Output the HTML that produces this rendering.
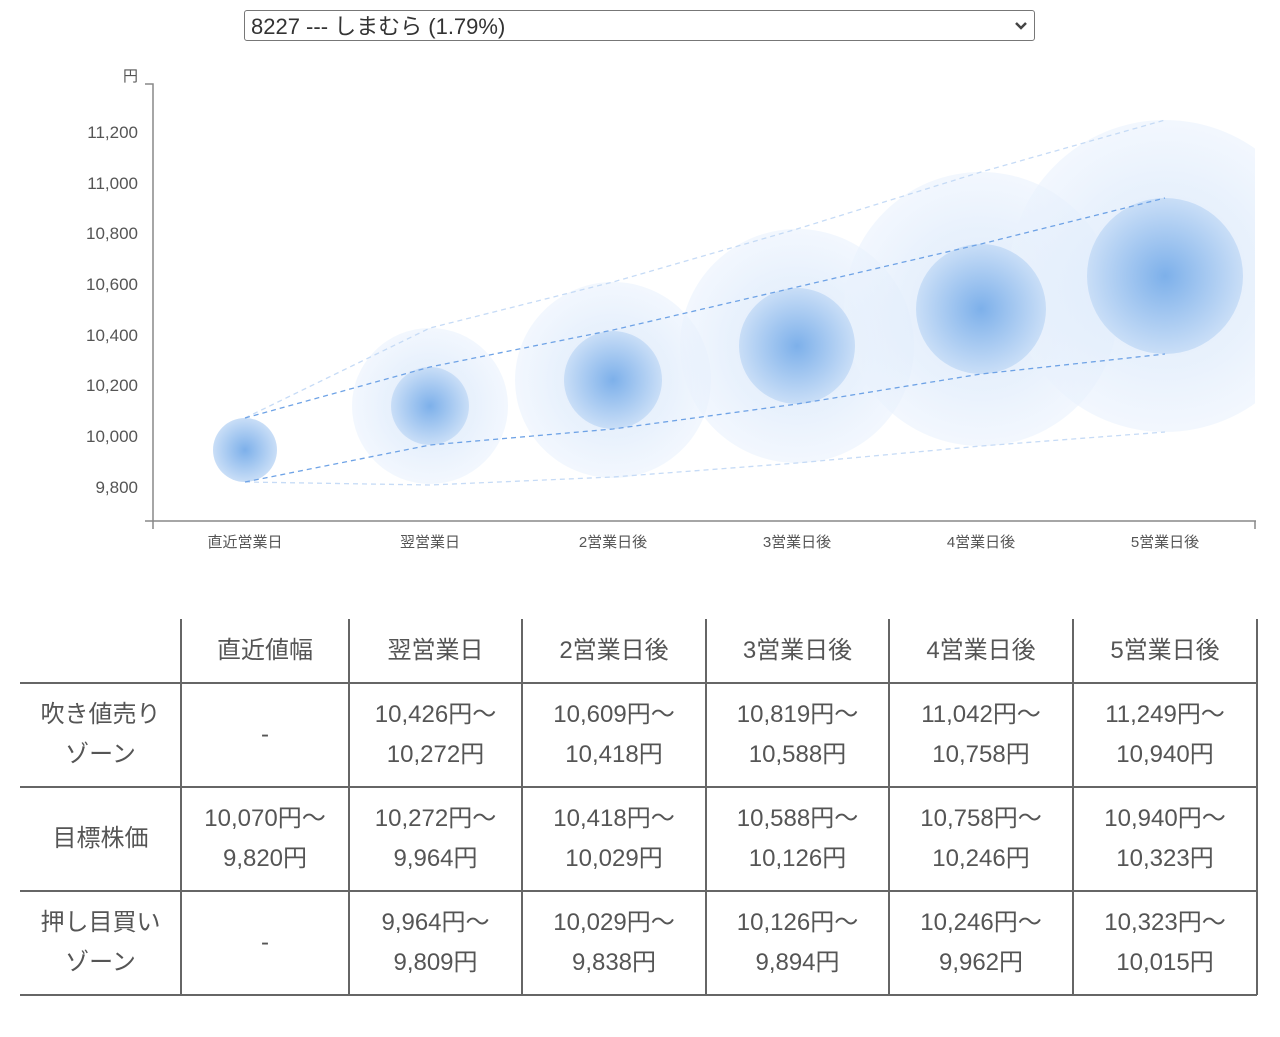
<!DOCTYPE html>
<html><head><meta charset="utf-8"><style>
body{margin:0;background:#fff;width:1280px;height:1037px;position:relative;overflow:hidden;font-family:"Liberation Sans","Noto Sans CJK JP",sans-serif;color:#444}
.sel{position:absolute;left:244px;top:10px;width:791px;height:31px;border:1px solid #777;border-radius:3px;font-size:22px;line-height:31px;padding-left:6px;box-sizing:border-box;color:#333}
.t{position:absolute;font-size:24px;color:#555;text-align:center;line-height:40px;display:flex;align-items:center;justify-content:center}
</style></head><body>
<div class="sel">8227 --- しまむら (1.79%)<svg style="position:absolute;right:6px;top:10px" width="14" height="10"><polyline points="2,2 7,7 12,2" fill="none" stroke="#444" stroke-width="2.5"/></svg></div>
<svg width="1280" height="600" style="position:absolute;left:0;top:0" font-family="Liberation Sans, Noto Sans CJK JP, sans-serif">
<defs>
<radialGradient id="gi"><stop offset="0" stop-color="#7db0ea"/><stop offset="1" stop-color="#c9def7"/></radialGradient>
<radialGradient id="go"><stop offset="0" stop-color="#dbe9fb" stop-opacity="0.9"/><stop offset="0.6" stop-color="#e3eefc" stop-opacity="0.8"/><stop offset="1" stop-color="#eaf2fd" stop-opacity="0.6"/></radialGradient>
<clipPath id="c"><rect x="153" y="60" width="1102" height="461"/></clipPath>
</defs>
<g font-size="17" fill="#555" text-anchor="end">
<text x="138" y="81" font-size="15">円</text>
<text x="138" y="138">11,200</text><text x="138" y="189">11,000</text><text x="138" y="239">10,800</text><text x="138" y="290">10,600</text><text x="138" y="341">10,400</text><text x="138" y="391">10,200</text><text x="138" y="442">10,000</text><text x="138" y="493">9,800</text>
</g>
<g clip-path="url(#c)">
<circle cx="430" cy="406" r="78" fill="url(#go)"/>
<circle cx="613" cy="380" r="98" fill="url(#go)"/>
<circle cx="797" cy="346" r="117" fill="url(#go)"/>
<circle cx="981" cy="309" r="137" fill="url(#go)"/>
<circle cx="1165" cy="276" r="156" fill="url(#go)"/>
<circle cx="245" cy="450" r="32" fill="url(#gi)"/>
<circle cx="430" cy="406" r="39" fill="url(#gi)"/>
<circle cx="613" cy="380" r="49" fill="url(#gi)"/>
<circle cx="797" cy="346" r="58" fill="url(#gi)"/>
<circle cx="981" cy="309" r="65" fill="url(#gi)"/>
<circle cx="1165" cy="276" r="78" fill="url(#gi)"/>
</g>
<g fill="none" stroke-dasharray="5,4" stroke-width="1.3">
<polyline points="245,418 430,328 613,282 797,229 981,172 1165,120" stroke="#c6dbf6"/>
<polyline points="245,482 430,485 613,477 797,463 981,446 1165,432" stroke="#c6dbf6"/>
<polyline points="245,418 430,367 613,330 797,287 981,244 1165,198" stroke="#6fa3e6"/>
<polyline points="245,482 430,445 613,429 797,404 981,374 1165,354" stroke="#6fa3e6"/>
</g>
<g stroke="#888" stroke-width="1.5" fill="none">
<polyline points="145,84 153,84 153,529"/>
<line x1="145" y1="521" x2="1256" y2="521"/>
<line x1="1255" y1="521" x2="1255" y2="529"/>
</g>
<g font-size="15" fill="#555" text-anchor="middle">
<text x="245" y="547">直近営業日</text><text x="430" y="547">翌営業日</text><text x="613" y="547">2営業日後</text><text x="797" y="547">3営業日後</text><text x="981" y="547">4営業日後</text><text x="1165" y="547">5営業日後</text>
</g>
</svg>
<svg width="1280" height="1037" style="position:absolute;left:0;top:0">
<g stroke="#666" stroke-width="2">
<line x1="20" y1="683" x2="1257" y2="683"/><line x1="20" y1="787" x2="1257" y2="787"/><line x1="20" y1="891" x2="1257" y2="891"/><line x1="20" y1="995" x2="1257" y2="995"/>
<line x1="181" y1="619" x2="181" y2="995"/><line x1="349" y1="619" x2="349" y2="995"/><line x1="522" y1="619" x2="522" y2="995"/><line x1="706" y1="619" x2="706" y2="995"/><line x1="889" y1="619" x2="889" y2="995"/><line x1="1073" y1="619" x2="1073" y2="995"/><line x1="1257" y1="619" x2="1257" y2="995"/>
</g></svg>
<div class="t" style="left:181px;top:619px;width:168px;height:64px">直近値幅</div>
<div class="t" style="left:349px;top:619px;width:173px;height:64px">翌営業日</div>
<div class="t" style="left:522px;top:619px;width:184px;height:64px">2営業日後</div>
<div class="t" style="left:706px;top:619px;width:183px;height:64px">3営業日後</div>
<div class="t" style="left:889px;top:619px;width:184px;height:64px">4営業日後</div>
<div class="t" style="left:1073px;top:619px;width:184px;height:64px">5営業日後</div>

<div class="t" style="left:20px;top:683px;width:161px;height:104px">吹き値売り<br>ゾーン</div>
<div class="t" style="left:181px;top:683px;width:168px;height:104px">-</div>
<div class="t" style="left:349px;top:683px;width:173px;height:104px">10,426円〜<br>10,272円</div>
<div class="t" style="left:522px;top:683px;width:184px;height:104px">10,609円〜<br>10,418円</div>
<div class="t" style="left:706px;top:683px;width:183px;height:104px">10,819円〜<br>10,588円</div>
<div class="t" style="left:889px;top:683px;width:184px;height:104px">11,042円〜<br>10,758円</div>
<div class="t" style="left:1073px;top:683px;width:184px;height:104px">11,249円〜<br>10,940円</div>

<div class="t" style="left:20px;top:787px;width:161px;height:104px">目標株価</div>
<div class="t" style="left:181px;top:787px;width:168px;height:104px">10,070円〜<br>9,820円</div>
<div class="t" style="left:349px;top:787px;width:173px;height:104px">10,272円〜<br>9,964円</div>
<div class="t" style="left:522px;top:787px;width:184px;height:104px">10,418円〜<br>10,029円</div>
<div class="t" style="left:706px;top:787px;width:183px;height:104px">10,588円〜<br>10,126円</div>
<div class="t" style="left:889px;top:787px;width:184px;height:104px">10,758円〜<br>10,246円</div>
<div class="t" style="left:1073px;top:787px;width:184px;height:104px">10,940円〜<br>10,323円</div>

<div class="t" style="left:20px;top:891px;width:161px;height:104px">押し目買い<br>ゾーン</div>
<div class="t" style="left:181px;top:891px;width:168px;height:104px">-</div>
<div class="t" style="left:349px;top:891px;width:173px;height:104px">9,964円〜<br>9,809円</div>
<div class="t" style="left:522px;top:891px;width:184px;height:104px">10,029円〜<br>9,838円</div>
<div class="t" style="left:706px;top:891px;width:183px;height:104px">10,126円〜<br>9,894円</div>
<div class="t" style="left:889px;top:891px;width:184px;height:104px">10,246円〜<br>9,962円</div>
<div class="t" style="left:1073px;top:891px;width:184px;height:104px">10,323円〜<br>10,015円</div>
</body></html>
